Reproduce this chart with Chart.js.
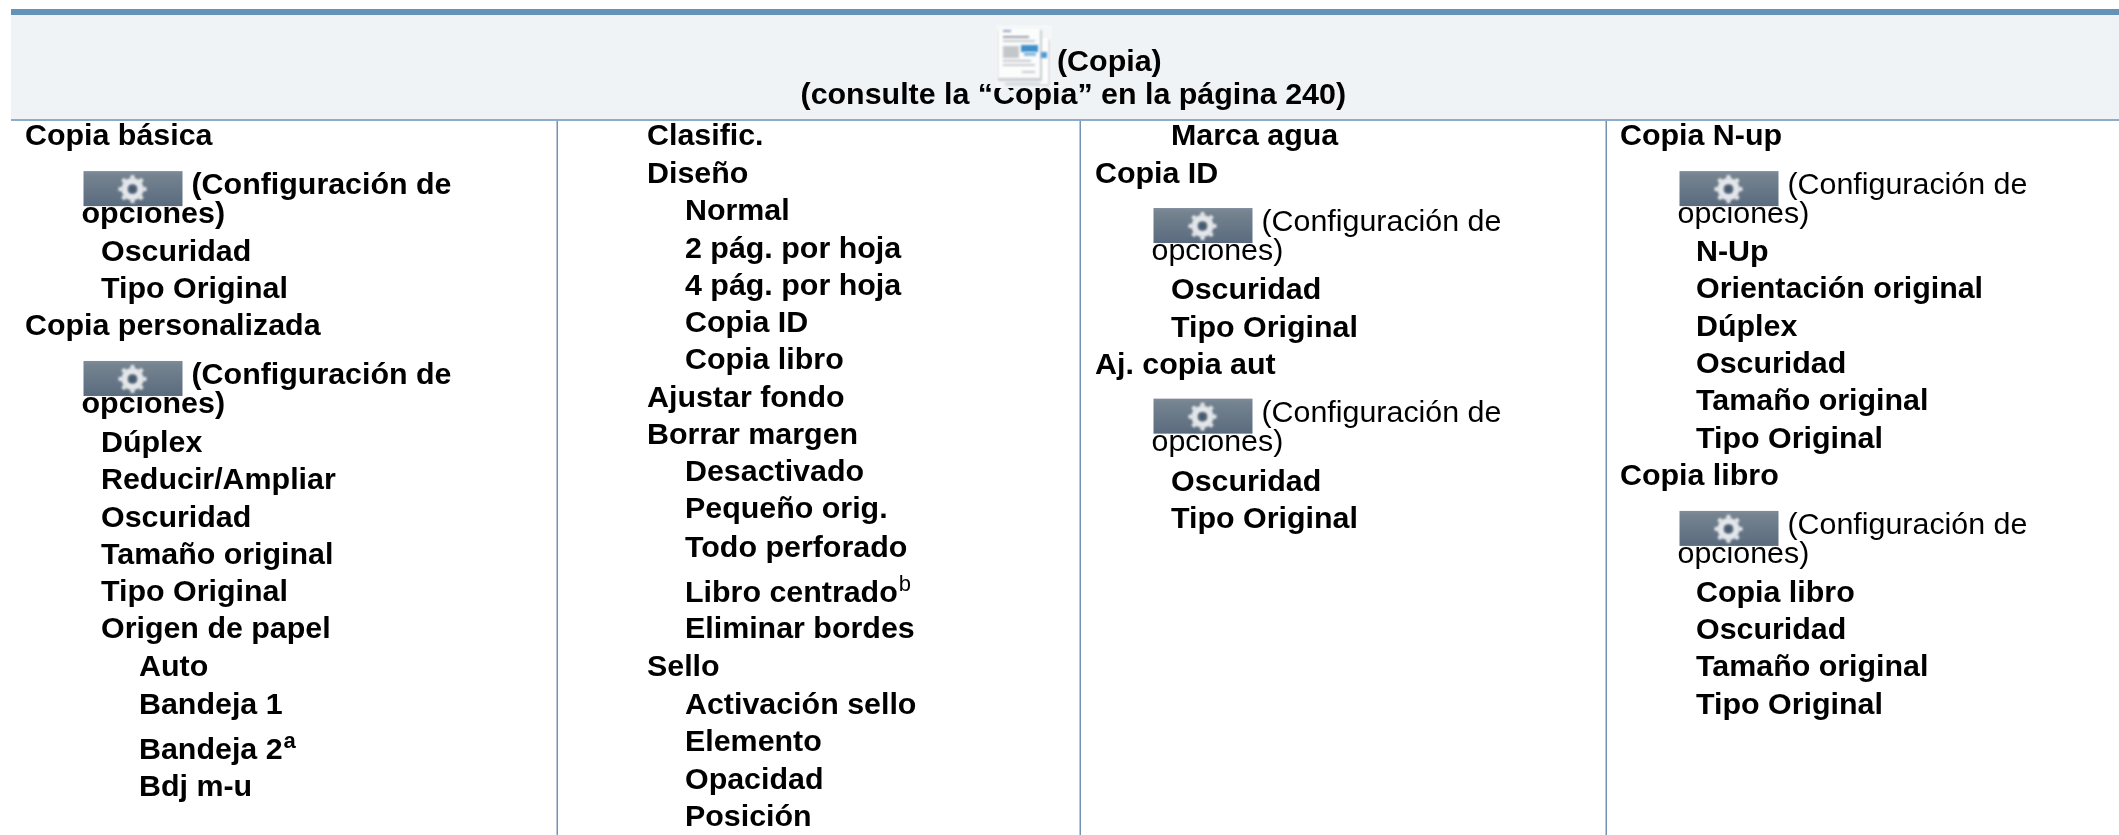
<html>
<head>
    <title>Copia menu</title>
    <script src="https://cdn.jsdelivr.net/npm/chart.js@4"></script>
    <style>
        html, body { margin: 0; padding: 0; background: #fff; overflow: hidden; }
        canvas { display: block; }
    </style>
</head>
<body>
    <canvas id="myChart" width="2119" height="835"></canvas>

    <script>
        // the table content: label, row (in line units, 0 = first line) and nesting depth
        var col1Labels = ["Copia básica", "Oscuridad", "Tipo Original", "Copia personalizada", "Dúplex", "Reducir/Ampliar", "Oscuridad", "Tamaño original", "Tipo Original", "Origen de papel", "Auto", "Bandeja 1", "Bandeja 2", "Bdj m-u"];
        var col1Rows = [0, 3.12, 4.12, 5.11, 8.24, 9.24, 10.25, 11.25, 12.25, 13.24, 14.25, 15.27, 16.47, 17.47];
        var col1Depth = [0, 2, 2, 0, 2, 2, 2, 2, 2, 2, 3, 3, 3, 3];

        var col2Labels = ["Clasific.", "Diseño", "Normal", "2 pág. por hoja", "4 pág. por hoja", "Copia ID", "Copia libro", "Ajustar fondo", "Borrar margen", "Desactivado", "Pequeño orig.", "Todo perforado", "Libro centrado", "Eliminar bordes", "Sello", "Activación sello", "Elemento", "Opacidad", "Posición"];
        var col2Rows = [0, 1.03, 2.02, 3.04, 4.03, 5.03, 6.03, 7.04, 8.03, 9.02, 10.01, 11.05, 12.26, 13.23, 14.25, 15.27, 16.26, 17.28, 18.27];
        var col2Depth = [0, 0, 1, 1, 1, 1, 1, 0, 0, 1, 1, 1, 1, 1, 0, 1, 1, 1, 1];

        var col3Labels = ["Marca agua", "Copia ID", "Oscuridad", "Tipo Original", "Aj. copia aut", "Oscuridad", "Tipo Original"];
        var col3Rows = [0, 1.03, 4.14, 5.16, 6.14, 9.28, 10.27];
        var col3Depth = [2, 0, 2, 2, 0, 2, 2];

        var col4Labels = ["Copia N-up", "N-Up", "Orientación original", "Dúplex", "Oscuridad", "Tamaño original", "Tipo Original", "Copia libro", "Copia libro", "Oscuridad", "Tamaño original", "Tipo Original"];
        var col4Rows = [0, 3.12, 4.12, 5.13, 6.13, 7.13, 8.13, 9.12, 12.27, 13.26, 14.25, 15.27];
        var col4Depth = [0, 2, 2, 2, 2, 2, 2, 0, 2, 2, 2, 2];

        // the "(Configuración de opciones)" entries with their gear button
        var settingsLine1 = "(Configuración de";
        var settingsLine2 = "opciones)";
        var settingsCols = [0, 0, 2, 2, 3, 3];
        var settingsRows = [1.33, 6.42, 2.32, 7.43, 1.33, 10.44];
        var settingsBold = [true, true, false, false, false, false];

        // footnote marks: column, index of the label they follow, mark
        var noteCols = [0, 1];
        var noteItems = [12, 12];
        var noteMarks = ["a", "b"];
        var noteBold = [true, false];

        var headerLine1 = "(Copia)";
        var headerLine2 = "(consulte la “Copia” en la página 240)";

        // layout
        var W = 2119, H = 835;
        var FIRST_LINE = 144.5, LINE = 37.3, INDENT = 38;
        var colStart = [25, 647, 1095, 1620];
        var settingsShift = [0, 0, 0, 1];
        var colLines = [557, 1080, 1606];
        var FONT = '30.4px "Liberation Sans", Arial, sans-serif';
        var FONT_B = 'bold ' + FONT;

        function buildColumn(c, labels, rows, depth) {
            var pts = [];
            for (var i = 0; i < labels.length; i++) {
                pts.push({x: colStart[c] + INDENT * depth[i], y: rows[i], label: labels[i]});
            }
            return {label: 'col' + c, data: pts, pointRadius: 0, showLine: false};
        }

        var settingsPts = [];
        for (var s = 0; s < settingsRows.length; s++) {
            var sc = settingsCols[s];
            settingsPts.push({x: colStart[sc] + settingsShift[sc], y: settingsRows[s], bold: settingsBold[s]});
        }

        function rect(ctx, xs, ys, x0, y0, x1, y1, color) {
            var a = xs.getPixelForValue(x0), b = ys.getPixelForValue(y0);
            ctx.fillStyle = color;
            ctx.fillRect(a, b, xs.getPixelForValue(x1) - a, ys.getPixelForValue(y1) - b);
        }

        function drawGearButton(ctx, x, base) {
            var top = base - 23;
            var g = ctx.createLinearGradient(0, top, 0, top + 35);
            g.addColorStop(0, '#7f8c9b');
            g.addColorStop(0.12, '#75838f');
            g.addColorStop(1, '#5a6b7f');
            ctx.fillStyle = g;
            ctx.fillRect(x, top, 99, 35);

            var cx = x + 49, cy = top + 18;
            ctx.save();
            ctx.filter = 'blur(1px)';
            ctx.strokeStyle = '#e4e7ea';
            ctx.lineWidth = 6;
            ctx.beginPath();
            ctx.arc(cx, cy, 8, 0, Math.PI * 2);
            ctx.stroke();
            ctx.lineWidth = 4;
            for (var k = 0; k < 8; k++) {
                var a = k * Math.PI / 4;
                ctx.beginPath();
                ctx.moveTo(cx + Math.cos(a) * 9, cy + Math.sin(a) * 9);
                ctx.lineTo(cx + Math.cos(a) * 14, cy + Math.sin(a) * 14);
                ctx.stroke();
            }
            ctx.fillStyle = '#44586e';
            ctx.fillRect(cx - 3, cy - 3, 6, 6);
            ctx.restore();
        }

        function drawDocIcon(ctx) {
            ctx.save();
            ctx.fillStyle = '#f4f6f8';
            ctx.fillRect(996, 25, 56, 63);
            ctx.filter = 'blur(0.8px)';
            // back page
            ctx.fillStyle = '#d9dde1';
            ctx.fillRect(1005, 82, 44, 4);
            ctx.fillRect(1047, 40, 3, 44);
            ctx.fillStyle = '#fdfdfe';
            ctx.fillRect(1040, 38, 8, 46);
            // front page
            ctx.fillStyle = '#c9ced3';
            ctx.fillRect(998, 30, 44, 51);
            ctx.fillStyle = '#fbfcfc';
            ctx.fillRect(998, 28, 42, 50);
            // page content
            ctx.fillStyle = '#8fa7c4';
            ctx.fillRect(1003, 30, 8, 2);
            ctx.fillStyle = '#9aa0a6';
            ctx.fillRect(1003, 36, 26, 2);
            ctx.fillStyle = '#c8ccd0';
            ctx.fillRect(1003, 40, 32, 2);
            ctx.fillStyle = '#c4c7ca';
            ctx.fillRect(1003, 46, 16, 12);
            ctx.fillStyle = '#3f8fcb';
            ctx.fillRect(1021, 45, 17, 7);
            ctx.fillStyle = '#8fbfe0';
            ctx.fillRect(1024, 52, 12, 4);
            ctx.fillStyle = '#4f9ad0';
            ctx.fillRect(1041, 52, 6, 6);
            ctx.fillStyle = '#b4b8bc';
            ctx.fillRect(1003, 60, 28, 1.5);
            ctx.fillStyle = '#c8ccd0';
            ctx.fillRect(1003, 64, 32, 2);
            ctx.fillRect(1022, 71, 13, 2);
            ctx.restore();
        }

        var tablePlugin = {
            id: 'table',
            beforeDatasetsDraw: function(chart) {
                var ctx = chart.ctx, xs = chart.scales.x, ys = chart.scales.y;
                ctx.save();
                // header band
                var y = function(p) { return ys.getValueForPixel(p); };
                rect(ctx, xs, ys, 11, y(15), W, y(120), '#eff3f6');
                rect(ctx, xs, ys, 11, y(9), W, y(15), '#6592b9');
                rect(ctx, xs, ys, 11, y(119), W, y(121), '#8eabc9');
                // column rules
                colLines.forEach(function(lx) {
                    rect(ctx, xs, ys, lx - 0.5, y(121), lx + 1, y(H), '#6f94b8');
                });
                ctx.restore();
            },
            afterDatasetsDraw: function(chart) {
                var ctx = chart.ctx;
                ctx.save();
                ctx.fillStyle = '#000';
                ctx.textBaseline = 'alphabetic';
                ctx.textAlign = 'left';

                // header text
                ctx.font = FONT_B;
                ctx.fillText(headerLine1, 1057, 71);
                ctx.textAlign = 'right';
                ctx.fillText(headerLine2, 1346, 104);
                ctx.textAlign = 'left';

                // menu entries, one dataset per column
                for (var c = 0; c < 4; c++) {
                    var meta = chart.getDatasetMeta(c);
                    var pts = chart.data.datasets[c].data;
                    meta.data.forEach(function(el, i) {
                        ctx.font = FONT_B;
                        ctx.fillText(pts[i].label, el.x, el.y);
                        for (var n = 0; n < noteCols.length; n++) {
                            if (noteCols[n] === c && noteItems[n] === i) {
                                var w = ctx.measureText(pts[i].label).width;
                                ctx.font = (noteBold[n] ? 'bold ' : '') + '22px "Liberation Sans", Arial, sans-serif';
                                ctx.fillText(noteMarks[n], el.x + w + 1, el.y - 11);
                            }
                        }
                    });
                }

                // settings entries: text first, the button sits over it
                var sm = chart.getDatasetMeta(4);
                var sd = chart.data.datasets[4].data;
                sm.data.forEach(function(el, i) {
                    ctx.fillStyle = '#000';
                    ctx.font = sd[i].bold ? FONT_B : FONT;
                    ctx.fillText(settingsLine1, el.x + 166.5, el.y);
                    ctx.fillText(settingsLine2, el.x + 56.5, el.y + 29);
                });
                sm.data.forEach(function(el) {
                    drawGearButton(ctx, el.x + 58.5, el.y);
                });

                drawDocIcon(ctx);
                ctx.restore();
            }
        };

        var ctx = document.getElementById('myChart').getContext('2d');
        var chart = new Chart(ctx, {
            type: 'scatter',
            data: {
                datasets: [
                    buildColumn(0, col1Labels, col1Rows, col1Depth),
                    buildColumn(1, col2Labels, col2Rows, col2Depth),
                    buildColumn(2, col3Labels, col3Rows, col3Depth),
                    buildColumn(3, col4Labels, col4Rows, col4Depth),
                    {label: 'settings', data: settingsPts, pointRadius: 0, showLine: false}
                ]
            },
            plugins: [tablePlugin],
            options: {
                responsive: false,
                animation: false,
                layout: {padding: 0},
                plugins: {legend: {display: false}, tooltip: {enabled: false}},
                scales: {
                    x: {type: 'linear', display: false, min: 0, max: W},
                    y: {type: 'linear', display: false, reverse: true,
                        min: -FIRST_LINE / LINE, max: (H - FIRST_LINE) / LINE}
                }
            }
        });
    </script>
</body>
</html>
